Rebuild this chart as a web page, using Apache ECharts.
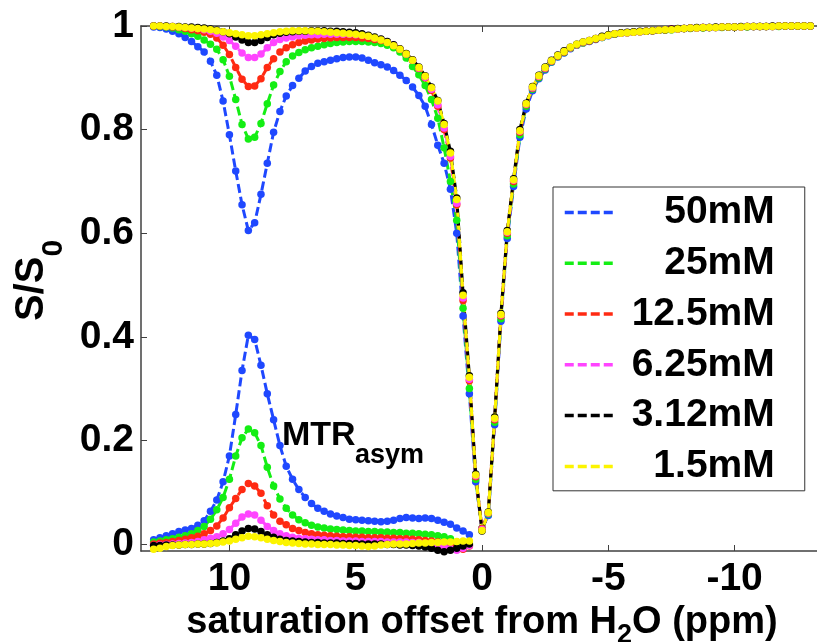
<!DOCTYPE html>
<html>
<head>
<meta charset="utf-8">
<script src="https://cdn.jsdelivr.net/npm/echarts@6/dist/echarts.min.js"></script>
<style>
  html, body { margin: 0; padding: 0; background: #fff; }
  #chart { width: 817px; height: 642px; }
</style>
</head>
<body>
<div id="chart"></div>
<script>
// saturation offsets (ppm), 0.25 ppm steps
const offsets = [
  13, 12.75, 12.5, 12.25, 12, 11.75, 11.5, 11.25, 11, 10.75, 10.5, 10.25,
  10, 9.75, 9.5, 9.25, 9, 8.75, 8.5, 8.25, 8, 7.75, 7.5, 7.25,
  7, 6.75, 6.5, 6.25, 6, 5.75, 5.5, 5.25, 5, 4.75, 4.5, 4.25,
  4, 3.75, 3.5, 3.25, 3, 2.75, 2.5, 2.25, 2, 1.75, 1.5, 1.25,
  1, 0.75, 0.5, 0.25, 0,
  -0.25, -0.5, -0.75, -1, -1.25, -1.5, -1.75, -2, -2.25, -2.5, -2.75, -3,
  -3.25, -3.5, -3.75, -4, -4.25, -4.5, -4.75, -5, -5.25, -5.5, -5.75, -6,
  -6.25, -6.5, -6.75, -7, -7.25, -7.5, -7.75, -8, -8.25, -8.5, -8.75, -9,
  -9.25, -9.5, -9.75, -10, -10.25, -10.5, -10.75, -11, -11.25, -11.5, -11.75, -12,
  -12.25, -12.5, -12.75, -13
];
// MTRasym is only shown for positive offsets
const mtrOffsets = offsets.slice(0, 51);

const names = ['50mM', '25mM', '12.5mM', '6.25mM', '3.12mM', '1.5mM'];
const colors = ['#1f48ff', '#14ee14', '#ff2a12', '#ff44ff', '#000000', '#fcf400'];

// Z-spectra S/S0
const z50 = [
  0.998, 0.997, 0.994, 0.99, 0.985, 0.978, 0.97, 0.96, 0.95, 0.932, 0.905, 0.855,
  0.79, 0.72, 0.655, 0.605, 0.62, 0.675, 0.735, 0.795, 0.835, 0.865, 0.885, 0.899,
  0.913, 0.922, 0.928, 0.931, 0.934, 0.937, 0.939, 0.94, 0.94, 0.938, 0.934, 0.929,
  0.925, 0.921, 0.914, 0.905, 0.895, 0.882, 0.866, 0.845, 0.81, 0.77, 0.735, 0.685,
  0.6, 0.44, 0.29, 0.12, 0.03,
  0.055, 0.23, 0.43, 0.59, 0.69, 0.785, 0.84, 0.875, 0.898, 0.915, 0.93, 0.94,
  0.948, 0.956, 0.963, 0.967, 0.97, 0.974, 0.978, 0.981, 0.984, 0.986, 0.987, 0.988,
  0.989, 0.99, 0.991, 0.992, 0.993, 0.993, 0.994, 0.995, 0.996, 0.996, 0.997, 0.997,
  0.997, 0.998, 0.998, 0.998, 0.998, 0.999, 0.999, 0.999, 0.999, 0.999, 1.0, 1.0,
  1.0, 1.0, 1.0, 1.0
];
const z25 = [
  1.0, 0.999, 0.998, 0.996, 0.993, 0.99, 0.985, 0.98, 0.973, 0.965, 0.955, 0.935,
  0.903, 0.858, 0.81, 0.782, 0.785, 0.812, 0.85, 0.886, 0.912, 0.931, 0.942, 0.949,
  0.954, 0.958, 0.961, 0.964, 0.966, 0.968, 0.969, 0.97, 0.97, 0.97, 0.969, 0.968,
  0.966, 0.963, 0.958, 0.95, 0.938, 0.922, 0.906, 0.885, 0.858, 0.822, 0.765, 0.7,
  0.625, 0.455, 0.3, 0.125, 0.03,
  0.058, 0.235, 0.435, 0.595, 0.695, 0.79, 0.845, 0.878, 0.9, 0.917, 0.931, 0.941,
  0.949, 0.957, 0.963, 0.967, 0.971, 0.975, 0.978, 0.982, 0.984, 0.986, 0.987, 0.988,
  0.989, 0.99, 0.991, 0.992, 0.992, 0.993, 0.994, 0.995, 0.995, 0.996, 0.996, 0.997,
  0.997, 0.997, 0.998, 0.998, 0.998, 0.998, 0.999, 0.999, 0.999, 0.999, 0.999, 1.0,
  1.0, 1.0, 1.0, 1.0
];
const z12 = [
  1.0, 1.0, 0.999, 0.998, 0.997, 0.995, 0.993, 0.991, 0.988, 0.984, 0.977, 0.963,
  0.945, 0.92, 0.897, 0.883, 0.884, 0.898, 0.92, 0.937, 0.95, 0.958, 0.964, 0.968,
  0.971, 0.973, 0.975, 0.976, 0.977, 0.978, 0.978, 0.978, 0.978, 0.977, 0.976, 0.974,
  0.972, 0.968, 0.963, 0.955, 0.946, 0.934, 0.918, 0.9, 0.876, 0.845, 0.8, 0.745,
  0.655, 0.47, 0.315, 0.13, 0.03,
  0.06, 0.24, 0.44, 0.6, 0.7, 0.795, 0.848, 0.88, 0.902, 0.918, 0.932, 0.942,
  0.95, 0.958, 0.964, 0.968, 0.971, 0.975, 0.979, 0.982, 0.985, 0.986, 0.987, 0.988,
  0.989, 0.99, 0.991, 0.992, 0.993, 0.994, 0.994, 0.995, 0.996, 0.996, 0.997, 0.997,
  0.997, 0.998, 0.998, 0.998, 0.998, 0.999, 0.999, 0.999, 0.999, 0.999, 1.0, 1.0,
  1.0, 1.0, 1.0, 1.0
];
const z6 = [
  1.0, 1.0, 0.999, 0.999, 0.998, 0.997, 0.996, 0.995, 0.993, 0.99, 0.986, 0.979,
  0.972, 0.961, 0.948, 0.939, 0.939, 0.946, 0.958, 0.968, 0.974, 0.977, 0.979, 0.981,
  0.982, 0.983, 0.983, 0.984, 0.984, 0.984, 0.984, 0.984, 0.983, 0.982, 0.98, 0.977,
  0.974, 0.969, 0.963, 0.955, 0.946, 0.934, 0.919, 0.901, 0.878, 0.848, 0.803, 0.748,
  0.658, 0.475, 0.318, 0.132, 0.028,
  0.06, 0.242, 0.442, 0.602, 0.702, 0.797, 0.849, 0.881, 0.903, 0.919, 0.933, 0.943,
  0.951, 0.958, 0.964, 0.968, 0.972, 0.976, 0.979, 0.982, 0.985, 0.986, 0.987, 0.988,
  0.989, 0.99, 0.991, 0.992, 0.993, 0.994, 0.994, 0.995, 0.996, 0.996, 0.997, 0.997,
  0.997, 0.998, 0.998, 0.998, 0.998, 0.999, 0.999, 0.999, 0.999, 0.999, 1.0, 1.0,
  1.0, 1.0, 1.0, 1.0
];
const z3 = [
  1.0, 1.0, 1.0, 0.999, 0.999, 0.998, 0.998, 0.997, 0.996, 0.994, 0.992, 0.989,
  0.985, 0.979, 0.973, 0.968, 0.968, 0.972, 0.978, 0.983, 0.986, 0.988, 0.989, 0.99,
  0.99, 0.991, 0.991, 0.991, 0.99, 0.99, 0.989, 0.988, 0.987, 0.985, 0.982, 0.979,
  0.975, 0.97, 0.964, 0.956, 0.947, 0.935, 0.921, 0.904, 0.882, 0.856, 0.812, 0.758,
  0.668, 0.485, 0.325, 0.135, 0.025,
  0.062, 0.245, 0.445, 0.605, 0.705, 0.8, 0.851, 0.883, 0.905, 0.921, 0.934, 0.944,
  0.952, 0.959, 0.965, 0.969, 0.972, 0.976, 0.98, 0.983, 0.985, 0.987, 0.988, 0.989,
  0.99, 0.99, 0.991, 0.992, 0.993, 0.994, 0.995, 0.995, 0.996, 0.997, 0.997, 0.997,
  0.998, 0.998, 0.998, 0.998, 0.999, 0.999, 0.999, 0.999, 0.999, 1.0, 1.0, 1.0,
  1.0, 1.0, 1.0, 1.0
];
const z1 = [
  1.0, 1.0, 0.999, 0.999, 0.998, 0.997, 0.996, 0.995, 0.994, 0.993, 0.991, 0.989,
  0.987, 0.985, 0.983, 0.981, 0.981, 0.983, 0.985, 0.987, 0.989, 0.99, 0.991, 0.991,
  0.991, 0.99, 0.99, 0.989, 0.988, 0.987, 0.986, 0.985, 0.984, 0.982, 0.98, 0.977,
  0.973, 0.968, 0.962, 0.955, 0.946, 0.934, 0.92, 0.903, 0.881, 0.855, 0.81, 0.755,
  0.665, 0.48, 0.322, 0.133, 0.026,
  0.061, 0.243, 0.443, 0.603, 0.703, 0.798, 0.85, 0.882, 0.904, 0.92, 0.933, 0.943,
  0.951, 0.959, 0.965, 0.969, 0.972, 0.976, 0.979, 0.982, 0.985, 0.986, 0.987, 0.988,
  0.989, 0.99, 0.991, 0.992, 0.993, 0.993, 0.994, 0.995, 0.996, 0.996, 0.997, 0.997,
  0.997, 0.998, 0.998, 0.998, 0.998, 0.999, 0.999, 0.999, 0.999, 0.999, 1.0, 1.0,
  1.0, 1.0, 1.0, 1.0
];

// MTRasym curves (13 -> 0.5 ppm)
const mtr50 = [
  0.008, 0.012, 0.016, 0.02, 0.024, 0.027, 0.03, 0.036, 0.045, 0.063, 0.085, 0.12,
  0.17, 0.25, 0.335, 0.403, 0.395, 0.345, 0.29, 0.24, 0.19, 0.15, 0.125, 0.105,
  0.09, 0.078, 0.069, 0.063, 0.058, 0.054, 0.051, 0.048, 0.047, 0.046, 0.045, 0.044,
  0.043, 0.044, 0.046, 0.049, 0.051, 0.05, 0.049, 0.05, 0.049, 0.046, 0.042, 0.038,
  0.031, 0.025, 0.018
];
const mtr25 = [
  0.004, 0.006, 0.008, 0.01, 0.013, 0.016, 0.02, 0.026, 0.034, 0.048, 0.066, 0.09,
  0.125, 0.17, 0.205, 0.222, 0.215, 0.19, 0.148, 0.112, 0.087, 0.069, 0.056, 0.047,
  0.041, 0.036, 0.033, 0.031, 0.029, 0.028, 0.027, 0.026, 0.025, 0.025, 0.024, 0.024,
  0.023, 0.023, 0.022, 0.022, 0.021, 0.021, 0.02, 0.019, 0.018, 0.016, 0.014, 0.01,
  0.004, -0.008, -0.002
];
const mtr12 = [
  0.0, 0.002, 0.003, 0.005, 0.007, 0.009, 0.012, 0.015, 0.02, 0.026, 0.035, 0.05,
  0.07, 0.088, 0.105, 0.117, 0.112, 0.098, 0.074, 0.056, 0.044, 0.037, 0.03, 0.026,
  0.022, 0.02, 0.018, 0.017, 0.016, 0.015, 0.014, 0.014, 0.013, 0.013, 0.012, 0.012,
  0.012, 0.011, 0.011, 0.01, 0.01, 0.009, 0.008, 0.007, 0.006, 0.004, 0.002, -0.002,
  -0.008, -0.01, -0.004
];
const mtr6 = [
  -0.003, -0.002, -0.001, 0.0, 0.001, 0.002, 0.003, 0.005, 0.008, 0.011, 0.014, 0.02,
  0.028, 0.04, 0.052, 0.058, 0.056, 0.046, 0.034, 0.026, 0.02, 0.016, 0.013, 0.011,
  0.01, 0.009, 0.008, 0.008, 0.007, 0.007, 0.006, 0.006, 0.006, 0.005, 0.005, 0.005,
  0.005, 0.004, 0.004, 0.004, 0.004, 0.003, 0.003, 0.001, 0.0, -0.003, -0.005, -0.009,
  -0.012, -0.008, -0.003
];
const mtr3 = [
  -0.003, -0.003, -0.002, -0.002, -0.002, -0.001, -0.001, 0.0, 0.0, 0.001, 0.003, 0.006,
  0.01, 0.018, 0.025, 0.03, 0.029, 0.024, 0.018, 0.013, 0.009, 0.007, 0.006, 0.005,
  0.004, 0.003, 0.003, 0.002, 0.002, 0.002, 0.001, 0.001, 0.001, 0.0, 0.0, 0.0,
  0.0, -0.001, -0.001, -0.002, -0.002, -0.003, -0.004, -0.006, -0.008, -0.012, -0.015, -0.012,
  -0.008, -0.004, 0.0
];
const mtr1 = [
  -0.01, -0.008, -0.005, -0.003, -0.002, -0.001, -0.001, 0.0, 0.0, 0.001, 0.002, 0.004,
  0.006, 0.009, 0.012, 0.015, 0.014, 0.012, 0.009, 0.007, 0.005, 0.003, 0.002, 0.001,
  0.0, 0.0, -0.001, -0.001, -0.001, -0.002, -0.002, -0.003, -0.003, -0.004, -0.005, -0.004,
  -0.002, -0.001, 0.0, 0.0, 0.0, 0.001, 0.002, 0.002, 0.003, 0.003, 0.004, 0.004,
  0.005, 0.006, 0.006
];

const xTicks = [10, 5, 0, -5, -10];
const yTicks = [0, 0.2, 0.4, 0.6, 0.8, 1];

const zData = [z50, z25, z12, z6, z3, z1];
const mtrData = [mtr50, mtr25, mtr12, mtr6, mtr3, mtr1];

const FONT = '"Liberation Sans", Arial, Helvetica, sans-serif';
const axisColor = '#404040';

function toPairs(xs, ys) {
  return ys.map((y, i) => [xs[i], y]);
}

function makeLine(name, xs, ys, color) {
  return {
    name: name,
    type: 'line',
    data: toPairs(xs, ys),
    color: color,
    symbol: 'circle',
    symbolSize: 7.5,
    showSymbol: true,
    clip: false,
    lineStyle: { width: 3, type: [9, 4], color: color },
    itemStyle: { color: color },
    emphasis: { disabled: true }
  };
}

const series = [];
names.forEach((n, i) => series.push(makeLine(n, offsets, zData[i], colors[i])));
names.forEach((n, i) => series.push(makeLine(n + ' MTRasym', mtrOffsets, mtrData[i], colors[i])));

const chart = echarts.init(document.getElementById('chart'));

chart.setOption({
  animation: false,
  backgroundColor: '#fff',
  grid: { left: 141, right: -6, top: 26, bottom: 91, outerBoundsMode: 'none', containLabel: false },
  xAxis: [
    {
      type: 'value',
      min: -13.5,
      max: 13.5,
      inverse: true,
      axisLine: { onZero: false, lineStyle: { color: axisColor, width: 1.5 } },
      axisTick: { inside: true, length: 6, customValues: xTicks, lineStyle: { color: axisColor } },
      axisLabel: {
        customValues: xTicks,
        margin: 9,
        color: '#000',
        fontSize: 39,
        fontWeight: 'bold',
        fontFamily: FONT
      },
      splitLine: { show: false },
      name: 'saturation offset from H{s|2}O (ppm)',
      nameLocation: 'middle',
      nameGap: 42,
      nameTextStyle: {
        color: '#000',
        fontSize: 38,
        fontWeight: 'bold',
        fontFamily: FONT,
        rich: {
          s: { fontSize: 27, fontWeight: 'bold', fontFamily: FONT, color: '#000', padding: [26, 0, 0, 0] }
        }
      }
    },
    {
      type: 'value',
      position: 'top',
      min: -13.5,
      max: 13.5,
      inverse: true,
      axisLine: { onZero: false, lineStyle: { color: axisColor, width: 1.5 } },
      axisTick: { inside: true, length: 6, customValues: xTicks, lineStyle: { color: axisColor } },
      axisLabel: { show: false },
      splitLine: { show: false }
    }
  ],
  yAxis: {
    type: 'value',
    min: -0.0135,
    max: 1,
    axisLine: { show: true, onZero: false, lineStyle: { color: axisColor, width: 1.5 } },
    axisTick: { show: true, inside: true, length: 6, customValues: yTicks, lineStyle: { color: axisColor } },
    axisLabel: {
      customValues: yTicks,
      margin: 7,
      color: '#000',
      fontSize: 39,
      fontWeight: 'bold',
      fontFamily: FONT
    },
    splitLine: { show: false },
    name: 'S/S{s|0}',
    nameLocation: 'middle',
    nameRotate: 90,
    nameGap: 70,
    nameTextStyle: {
      color: '#000',
      fontSize: 40,
      fontWeight: 'bold',
      fontFamily: FONT,
      padding: [0, 0, 0, 16],
      rich: {
        s: { fontSize: 30, fontWeight: 'bold', fontFamily: FONT, color: '#000', padding: [44, 0, 0, 0] }
      }
    }
  },
  legend: {
    data: names,
    orient: 'vertical',
    left: 553,
    top: 187,
    backgroundColor: '#fff',
    borderColor: '#333',
    borderWidth: 1,
    borderRadius: 0,
    padding: [5, 30, 4, 10],
    itemGap: 10,
    itemWidth: 49,
    itemHeight: 51,
    selectedMode: false,
    itemStyle: { opacity: 0 },
    lineStyle: { width: 3.5, type: [9, 4] },
    formatter: '{n|{name}}',
    textStyle: {
      rich: {
        n: {
          width: 156,
          align: 'right',
          fontSize: 39,
          fontWeight: 'bold',
          fontFamily: FONT,
          color: '#000'
        }
      }
    }
  },
  graphic: [
    {
      type: 'text',
      x: 282,
      y: 436,
      silent: true,
      style: { text: 'MTR', fill: '#000', font: 'bold 34px ' + FONT, verticalAlign: 'middle' }
    },
    {
      type: 'text',
      x: 355,
      y: 456,
      silent: true,
      style: { text: 'asym', fill: '#000', font: 'bold 27px ' + FONT, verticalAlign: 'middle' }
    }
  ],
  series: series
});
</script>
</body>
</html>
